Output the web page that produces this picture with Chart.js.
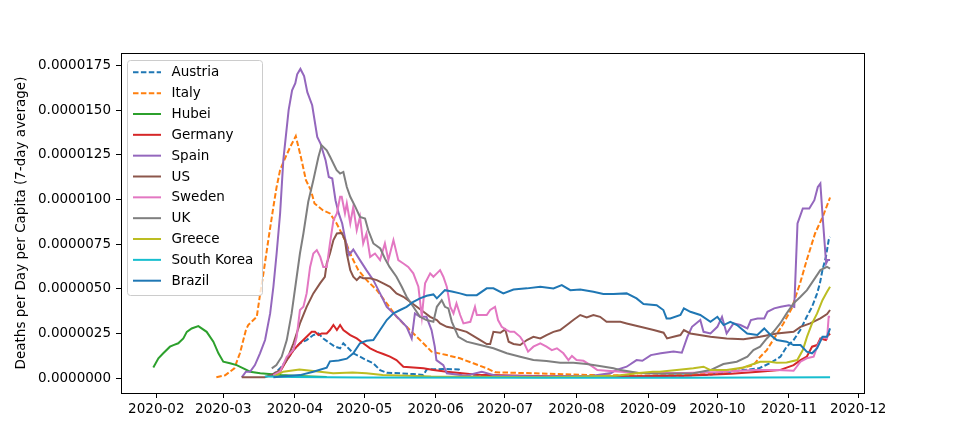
<!DOCTYPE html>
<html>
<head>
<meta charset="utf-8">
<script src="https://cdn.jsdelivr.net/npm/chart.js@4.4.0/dist/chart.umd.min.js"></script>
<style>
  body { margin: 0; background: #fff; }
  #wrap { width: 960px; height: 442px; }
</style>
</head>
<body>
<div id="wrap"><canvas id="deaths" width="960" height="442"></canvas></div>
<script>
// day number = days since 2020-01-01, values in deaths per capita x 1e-6
const monthDays = [31, 60, 91, 121, 152, 182, 213, 244, 274, 305, 335];
const monthLabels = ["2020-02", "2020-03", "2020-04", "2020-05", "2020-06", "2020-07",
    "2020-08", "2020-09", "2020-10", "2020-11", "2020-12"];
const yTicks = [0, 2.5, 5, 7.5, 10, 12.5, 15, 17.5];

const seriesNames = ["Austria", "Italy", "Hubei", "Germany", "Spain", "US", "Sweden", "UK", "Greece", "South Korea", "Brazil"];
const seriesColors = ["#1f77b4", "#ff7f0e", "#2ca02c", "#d62728", "#9467bd", "#8c564b", "#e377c2", "#7f7f7f", "#bcbd22", "#17becf", "#1f77b4"];
const dashedSeries = ["Austria", "Italy"];

const austria = [[81,0.15],[84.6,0.56],[87.5,1.02],[90.4,1.58],[93.2,1.96],[96.1,2.14],[99,2.42],[101.2,2.51],[103.3,2.23],[106.2,1.96],[108.4,1.77],[110.6,1.68],[112,1.96],[114.2,1.68],[116.3,1.4],[119.2,1.21],[122,1.02],[125,0.84],[127.9,0.46],[130.8,0.31],[136.6,0.28],[142.3,0.24],[146.7,0.18],[148.1,0.5],[155,0.52],[162,0.5],[163,0.12],[200,0.08],[240,0.1],[270,0.2],[285,0.46],[292,0.56],[296.7,0.84],[301.3,1.21],[304,1.77],[307,2.14],[309.9,2.7],[312.7,3.44],[315,4.0],[317.2,4.75],[318.4,5.31],[319.5,6.05],[321,6.79],[322.2,7.73],[322.8,7.91]];
const italy = [[57,0.06],[60.8,0.17],[64.8,0.56],[67.2,1.4],[69.8,2.7],[70.8,2.98],[74.5,3.44],[76,4.75],[77.6,6.05],[79.5,7.73],[81.7,9.59],[83.1,10.7],[84.6,11.64],[86.7,12.29],[89,12.94],[91.4,13.54],[93.6,12.38],[95.8,11.08],[98,10.5],[99.5,9.78],[103.1,9.4],[106.2,9.22],[109.1,8.66],[112.7,7.73],[115.6,6.79],[118.5,6.05],[122.1,5.49],[126.5,4.93],[130.8,4.19],[135.1,3.44],[139.4,2.88],[143.8,2.32],[148.1,1.77],[150.2,1.49],[156.8,1.3],[162.5,1.12],[168.3,0.84],[174.1,0.56],[177.7,0.34],[195,0.28],[214,0.2],[240,0.15],[260,0.2],[270,0.28],[278,0.37],[284,0.56],[289.6,0.74],[292.6,1.21],[295.4,1.58],[299,2.32],[302.6,3.07],[306.2,3.91],[309.8,5.31],[312.7,6.61],[316.3,8.1],[319.9,9.12],[322.8,10.11]];
const hubei = [[29.7,0.61],[31.9,1.12],[34,1.4],[36.9,1.77],[38.4,1.86],[40.5,1.96],[42.7,2.23],[44.2,2.6],[46.3,2.79],[49.2,2.92],[52.8,2.6],[55.7,2.05],[57.9,1.4],[60,0.93],[62.9,0.84],[65.8,0.74],[68.7,0.56],[71.6,0.37],[76,0.28],[85,0.18],[95,0.12],[104.8,0.07]];
const germany = [[82,0.1],[84.6,0.37],[87.5,1.02],[90.4,1.58],[93.2,1.96],[96.1,2.32],[98.3,2.6],[99.7,2.6],[101.2,2.42],[102.6,2.51],[104.8,2.51],[106.2,2.7],[107.7,2.98],[109.2,2.7],[110.6,2.98],[112,2.7],[115,2.42],[117.8,2.23],[120.6,1.96],[123.6,1.68],[126.5,1.49],[129.3,1.36],[132.2,1.21],[135,1.02],[138,0.65],[142.3,0.61],[146.7,0.56],[151,0.46],[156.8,0.37],[170,0.2],[200,0.12],[230,0.1],[260,0.15],[280,0.25],[292,0.37],[301,0.46],[307,0.74],[310,1.02],[312.7,1.21],[315,1.77],[317.2,1.86],[318.6,2.23],[321,2.14],[322.2,2.51],[322.8,2.42]];
const spain = [[68,0.05],[69.8,0.37],[71.6,0.37],[73.7,0.74],[75.9,1.4],[78.1,2.14],[80.3,3.63],[81.7,5.12],[83.1,6.98],[84.6,9.2],[86,12.2],[88.3,15.0],[89.8,16.1],[91.2,16.5],[92,17.0],[93.4,17.3],[95,16.9],[96.4,16.0],[98.5,15.27],[100.7,13.5],[102.1,13.13],[104.3,12.2],[105.7,11.26],[107.2,11.17],[108.6,9.96],[110,9.22],[111.5,8.66],[112.9,7.73],[114.5,6.9],[116.3,7.2],[119.2,6.61],[122,6.05],[125,5.49],[127.9,4.75],[130.8,4.0],[133.7,3.63],[136.6,3.26],[139.4,2.88],[141.6,2.23],[143,3.63],[145.2,3.44],[148,3.44],[150.2,2.7],[151.6,1.77],[152.3,1.02],[155.3,0.74],[156.8,0.28],[165,0.15],[172,0.37],[178,0.15],[200,0.1],[220,0.15],[228,0.3],[230,0.46],[234.7,0.65],[239,1.02],[241.5,0.98],[245.2,1.3],[249.5,1.4],[255,1.5],[258.6,1.43],[261,2.32],[263,2.88],[266.6,3.26],[268,2.6],[271,2.51],[274,2.88],[276,3.44],[278,2.51],[281,3.07],[284,2.98],[287,2.79],[288.5,3.26],[291.4,3.35],[294.3,3.35],[295.7,3.72],[298.6,3.91],[301.5,4.0],[305,4.09],[307.3,4.0],[308.7,8.66],[311,9.5],[313.8,9.5],[316,9.96],[317.5,10.7],[318.6,10.89],[319.6,9.03],[321.1,6.42],[321.8,6.61],[322.8,6.61]];
const us = [[68,0.06],[78,0.06],[81,0.2],[84.6,0.46],[87.5,1.02],[90.4,1.96],[93.2,3.07],[96.1,4.0],[99,4.75],[101.9,5.31],[104,5.68],[104.8,6.42],[106.2,6.98],[107.7,7.73],[109.2,8.1],[111.3,8.13],[112.7,7.73],[113.5,6.98],[115,6.05],[116.3,5.68],[117.8,5.49],[119.2,5.68],[120.6,5.59],[123.6,5.59],[126.5,5.49],[129.3,5.31],[132.2,5.12],[135,4.75],[138,4.56],[140.9,4.28],[143.8,4.0],[146.7,3.72],[149.6,3.44],[152.5,3.26],[153.9,3.07],[156.8,2.88],[160,2.8],[165.4,2.6],[171.3,2.14],[174.1,1.92],[175.6,1.92],[177,2.6],[180,2.55],[182.1,2.74],[183.6,2.05],[185.7,1.92],[188.6,1.86],[191.5,2.14],[194.3,2.32],[197.3,2.23],[200,2.42],[203,2.6],[205.9,2.7],[208.8,2.98],[211.6,3.26],[214.6,3.54],[217.4,3.41],[220.3,3.54],[223.2,3.44],[226,3.16],[229,3.16],[232,3.16],[234.7,3.07],[240.6,2.88],[246.4,2.7],[250.7,2.55],[252.2,2.23],[255,2.32],[258,2.42],[259.5,2.7],[262.3,2.51],[271,2.32],[278,2.23],[285.3,2.18],[292.5,2.32],[299.7,2.51],[307,2.6],[310,2.88],[314.2,3.07],[318.6,3.35],[321.5,3.59],[322.8,3.82]];
const sweden = [[81.7,0.18],[84.6,0.37],[87.5,1.21],[90.4,1.6],[91.8,2.32],[93.2,3.82],[94.7,4.0],[96.1,4.75],[97.6,6.23],[99,6.98],[100.5,7.17],[102,6.79],[103.3,6.23],[104.8,6.23],[106.2,7.54],[107.7,8.84],[109.2,9.22],[110.6,10.15],[111.3,10.15],[112.7,9.22],[113.5,9.78],[115,8.66],[116.3,9.59],[117.8,8.28],[119.2,9.03],[120.6,7.54],[122,8.1],[123.6,6.79],[125.7,6.98],[127.9,6.61],[130,7.54],[131.5,6.61],[133.7,7.73],[135.8,6.61],[138,6.42],[140.1,6.23],[142.3,5.87],[144.5,5.12],[146,3.44],[147.4,5.31],[149.6,5.87],[151,5.68],[152.5,5.87],[153.9,6.05],[155.3,5.68],[156.8,5.12],[158.3,4.0],[159.7,3.63],[161,4.19],[162.6,3.54],[164,3.07],[167,3.16],[169,4.0],[169.8,3.54],[174.1,3.54],[175.6,3.82],[177.7,4.0],[179,3.26],[180.6,2.88],[182.8,2.7],[184.2,2.6],[186,2.6],[188.6,2.32],[190,2.05],[192,1.49],[194.3,1.77],[197.3,1.96],[200,1.77],[202.3,1.58],[204.5,1.68],[207.3,1.4],[209.5,1.02],[211,1.25],[213,1.02],[216,0.98],[219,0.74],[222,0.46],[226,0.42],[240,0.3],[260,0.3],[275,0.35],[289.6,0.46],[299.7,0.46],[307,0.42],[310,0.93],[312.7,1.12],[315.7,1.21],[317.2,1.77],[318.6,2.14],[320,2.32],[321.5,2.23],[322.2,3.44],[322.8,3.44]];
const uk = [[81,0.56],[83,0.74],[85.3,1.21],[87.5,2.14],[89.6,3.63],[91.8,5.68],[93.2,6.98],[94.7,8.1],[96.8,9.87],[99,11.08],[101.2,12.38],[102.6,13.03],[104.8,12.75],[106.2,12.4],[109.1,11.64],[110.6,11.45],[112,11.54],[113.5,10.7],[115,10.15],[117.2,9.59],[119.2,9.03],[121.4,8.94],[122.8,8.28],[125,7.54],[128,7.26],[130,6.7],[132,6.23],[135,5.68],[137.3,5.12],[139.4,4.56],[142.3,4.0],[145.2,3.44],[148,3.26],[151,3.16],[152.5,4.0],[154.6,4.37],[156,4.0],[157.5,3.91],[159,3.16],[161.8,2.32],[165.4,2.05],[171.3,1.86],[177,1.68],[182.8,1.4],[188.6,1.21],[194.3,1.02],[200,0.97],[205.9,0.87],[211.6,0.87],[217.4,0.8],[223,0.69],[229,0.56],[232,0.46],[240,0.3],[250,0.25],[263.6,0.28],[271,0.46],[276.6,0.8],[282.4,0.93],[287,1.21],[289.6,1.58],[292.5,1.77],[295.4,2.23],[298.3,2.6],[301.2,3.07],[304,3.63],[307,4.19],[310,4.56],[312.8,4.93],[315.7,5.49],[318.6,6.05],[321.5,6.23],[322.8,6.14]];
const greece = [[82,0.1],[86,0.37],[93,0.5],[99,0.41],[107.6,0.28],[116,0.33],[122,0.28],[129,0.18],[150,0.1],[200,0.06],[230,0.15],[240,0.3],[246,0.37],[249,0.37],[256.4,0.46],[263.6,0.56],[268,0.65],[271,0.46],[278,0.46],[285.3,0.61],[289.6,0.8],[292.5,0.93],[296.7,0.93],[299.7,0.87],[304,0.89],[308.6,1.02],[311,1.58],[312.8,2.32],[315,3.07],[317.2,3.63],[319.5,4.37],[321.5,4.84],[322.8,5.12]];
const southKorea = [[78,0.1],[90,0.08],[120,0.05],[200,0.03],[260,0.03],[322.8,0.06]];
const brazil = [[81.7,0.06],[93.2,0.18],[99,0.37],[104.8,0.6],[106.2,0.95],[110,1.0],[113.5,1.1],[116.3,1.4],[119.2,1.96],[122,2.1],[125,2.14],[127.9,2.7],[130.8,3.26],[133.7,3.63],[136.6,3.82],[139.4,4.0],[142.3,4.28],[145.2,4.47],[148.1,4.62],[151,4.69],[152.5,4.47],[156,4.93],[159,4.85],[162.5,4.75],[165.4,4.65],[169.8,4.65],[174.1,5.03],[177,5.03],[181.3,4.75],[185.7,4.97],[191.5,5.03],[197.3,5.12],[203,5.03],[206.6,5.21],[210.3,4.93],[214.6,4.97],[220.3,4.84],[224.6,4.71],[229,4.71],[234.7,4.75],[239,4.47],[242,4.15],[247.7,4.09],[250.6,3.82],[252,3.35],[253.6,3.35],[258,3.54],[259.5,3.91],[262.3,3.72],[266.6,3.54],[271,3.16],[274,3.44],[276.7,2.98],[279.6,3.16],[282.5,2.98],[286.9,2.51],[291.3,2.42],[294.3,2.79],[297,2.42],[299.7,2.14],[304,2.05],[307,1.86],[310,1.86],[312.7,1.49],[315,1.4],[317.2,1.68],[319.5,2.32],[321.5,2.32],[322.8,2.79]];

const seriesData = [austria, italy, hubei, germany, spain, us, sweden, uk, greece, southKorea, brazil];

const FONT = "DejaVu Sans";
Chart.defaults.font.family = FONT;
Chart.defaults.font.size = 13.5;
Chart.defaults.color = "#000";

const datasets = seriesNames.map((name, i) => ({
    label: name,
    data: seriesData[i].map(p => ({ x: p[0], y: p[1] })),
    borderColor: seriesColors[i],
    backgroundColor: seriesColors[i],
    borderWidth: 2,
    borderDash: dashedSeries.includes(name) ? [5.5, 2.4] : [],
    pointRadius: 0,
    tension: 0,
    fill: false,
    order: seriesNames.length - i, // later series on top, like matplotlib
}));

// frame around the axes + legend box in upper left
const framePlugin = {
    id: "frameAndLegend",
    afterDraw(chart) {
        const { ctx, chartArea: a } = chart;
        ctx.save();
        ctx.strokeStyle = "#000";
        ctx.lineWidth = 1;
        ctx.strokeRect(Math.round(a.left) + 0.5, Math.round(a.top) + 0.5,
            Math.round(a.right - a.left), Math.round(a.bottom - a.top));

        // legend
        const bx = 127.5, by = 60.5, bw = 135, bh = 235, r = 3;
        ctx.beginPath();
        ctx.moveTo(bx + r, by);
        ctx.arcTo(bx + bw, by, bx + bw, by + bh, r);
        ctx.arcTo(bx + bw, by + bh, bx, by + bh, r);
        ctx.arcTo(bx, by + bh, bx, by, r);
        ctx.arcTo(bx, by, bx + bw, by, r);
        ctx.closePath();
        ctx.fillStyle = "rgba(255,255,255,0.8)";
        ctx.fill();
        ctx.strokeStyle = "#cccccc";
        ctx.stroke();

        ctx.font = "13.5px '" + FONT + "'";
        ctx.textBaseline = "middle";
        ctx.textAlign = "left";
        seriesNames.forEach((name, i) => {
            const y = 72.3 + i * 20.84;
            ctx.beginPath();
            ctx.setLineDash(dashedSeries.includes(name) ? [5.5, 2.4] : []);
            ctx.strokeStyle = seriesColors[i];
            ctx.lineWidth = 2;
            ctx.moveTo(133, y);
            ctx.lineTo(161, y);
            ctx.stroke();
            ctx.setLineDash([]);
            ctx.fillStyle = "#000";
            ctx.fillText(name, 171.5, y + 0.5);
        });
        ctx.restore();
    },
};

new Chart(document.getElementById("deaths"), {
    type: "line",
    data: { datasets },
    plugins: [framePlugin],
    options: {
        responsive: false,
        animation: false,
        devicePixelRatio: 1,
        layout: { padding: { top: 53, right: 96, left: 0, bottom: 0 } },
        plugins: { legend: { display: false }, tooltip: { enabled: false } },
        scales: {
            x: {
                type: "linear",
                min: 15.7,
                max: 337.5,
                afterBuildTicks: (axis) => { axis.ticks = monthDays.map(v => ({ value: v })); },
                afterFit: (axis) => { axis.height = 49; },
                ticks: {
                    autoSkip: false,
                    maxRotation: 0,
                    padding: 3,
                    color: "#000",
                    callback: (v, i) => monthLabels[i],
                },
                grid: { drawOnChartArea: false, drawTicks: true, tickLength: 5, color: "#000" },
                border: { display: false },
            },
            y: {
                type: "linear",
                min: -0.82,
                max: 18.19,
                afterBuildTicks: (axis) => { axis.ticks = yTicks.map(v => ({ value: v })); },
                afterFit: (axis) => { axis.width = 121; },
                ticks: {
                    padding: 5,
                    color: "#000",
                    callback: (v) => (v * 1e-6).toFixed(7),
                },
                grid: { drawOnChartArea: false, drawTicks: true, tickLength: 5, color: "#000" },
                border: { display: false },
                title: {
                    display: true,
                    text: "Deaths per Day per Capita (7-day average)",
                    color: "#000",
                    padding: { top: 13, bottom: 0 },
                    font: { size: 13.5 },
                },
            },
        },
    },
});
</script>
</body>
</html>
